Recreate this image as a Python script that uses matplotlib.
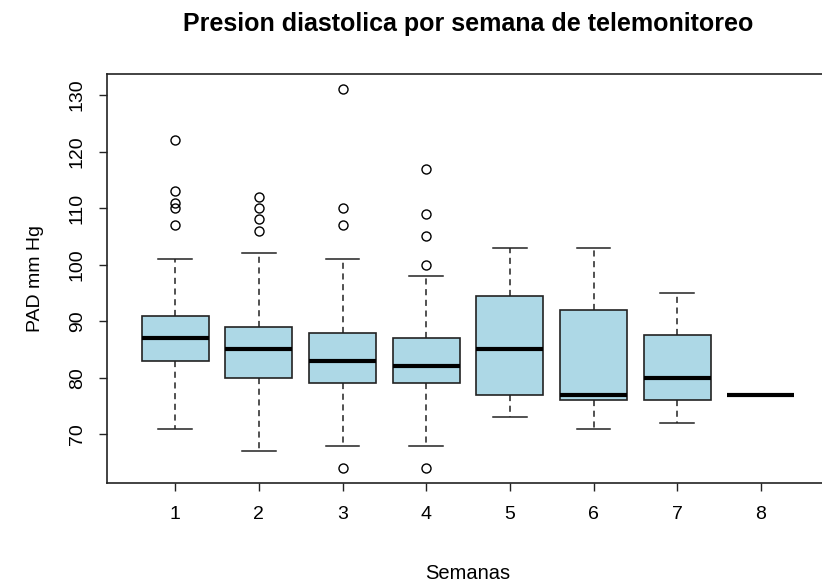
import matplotlib.pyplot as plt

plt.rcParams['font.family'] = ['Liberation Sans', 'DejaVu Sans']

# valores (PAD en mm Hg, por semana)
semanas = [1, 2, 3, 4, 5, 6, 7, 8]
mediana = [87, 85, 83, 82, 85, 77, 80, 77]
q1 = [83, 80, 79, 79, 77, 76, 76, 77]
q3 = [91, 89, 88, 87, 94.5, 92, 87.5, 77]
bigote_inf = [71, 67, 68, 68, 73, 71, 72, 77]
bigote_sup = [101, 102, 101, 98, 103, 103, 95, 77]
atipicos = [
    [122, 113, 111, 110, 107],
    [112, 110, 108, 106],
    [131, 110, 107, 64],
    [117, 109, 105, 100, 64],
    [], [], [], [],
]

stats = []
for i, s in enumerate(semanas):
    stats.append({'label': str(s), 'med': mediana[i], 'q1': q1[i], 'q3': q3[i],
                  'whislo': bigote_inf[i], 'whishi': bigote_sup[i], 'fliers': atipicos[i]})

fig = plt.figure(figsize=(8.22, 5.82), dpi=100)
ax = fig.add_axes([0.1297, 0.1696, 0.8794, 0.7027])

edge = '#222222'
ax.bxp(stats, positions=semanas, widths=0.8, capwidths=0.4, patch_artist=True,
       boxprops=dict(facecolor='#ADD8E6', edgecolor=edge, linewidth=1.2),
       medianprops=dict(color='black', linewidth=3.0, solid_capstyle='butt'),
       whiskerprops=dict(color=edge, linestyle=(0, (4, 3)), linewidth=1.1),
       capprops=dict(color=edge, linewidth=1.1),
       flierprops=dict(marker='o', markerfacecolor='none', markeredgecolor='black',
                       markersize=6.5, markeredgewidth=1.0))

ax.set_xlim(0.18, 8.82)
ax.set_ylim(61.32, 133.68)
ax.set_xticks(semanas)
ax.set_xticklabels([str(s) for s in semanas])
ax.set_yticks(range(70, 131, 10))
ax.tick_params(axis='both', length=6, width=1, labelsize=14, color=edge)
ax.tick_params(axis='x', pad=10)
ax.tick_params(axis='y', pad=9)
plt.setp(ax.get_yticklabels(), rotation=90, va='center')
for sp in ax.spines.values():
    sp.set_linewidth(1.2)
    sp.set_color(edge)

ax.set_xlabel('Semanas', fontsize=14.5, labelpad=30)
ax.set_ylabel('PAD mm Hg', fontsize=14, labelpad=18)
ax.set_title('Presion diastolica por semana de telemonitoreo', fontsize=18,
             fontweight='bold', pad=31)

plt.savefig('out.png', dpi=100)
